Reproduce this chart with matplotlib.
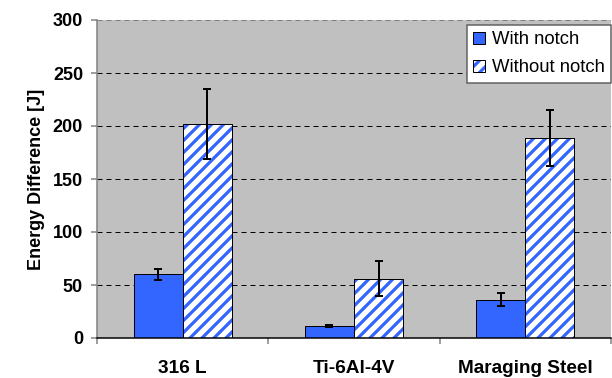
import numpy as np
import matplotlib
matplotlib.use("Agg")
import matplotlib.pyplot as plt
from matplotlib.patches import Patch

# data
materials = ["316 L", "Ti-6Al-4V", "Maraging Steel"]
with_notch = [60, 11.5, 36]
with_notch_err = [5, 0.8, 6]
without_notch = [202, 56, 189]
without_notch_err = [33, 16.5, 26.5]

blue = "#3366FF"
plt.rcParams["font.family"] = ["Liberation Sans", "DejaVu Sans"]
plt.rcParams["hatch.linewidth"] = 3.2

fig = plt.figure(figsize=(8.5, 5.25), dpi=72)
ax = fig.add_axes([97 / 612, 1 - 338 / 378, 514 / 612, 318 / 378])
ax.set_facecolor("#C0C0C0")

x = np.arange(len(materials))
w = 0.286

ax.bar(x - w / 2, with_notch, w, color=blue, edgecolor="black", linewidth=1, zorder=2)
ax.bar(x + w / 2, without_notch, w, color="white", edgecolor=blue, hatch="//",
       linewidth=0, zorder=2)
ax.bar(x + w / 2, without_notch, w, fill=False, edgecolor="black", linewidth=1, zorder=3)

ax.errorbar(x - w / 2, with_notch, yerr=with_notch_err, fmt="none", ecolor="black",
            elinewidth=2, capsize=4, capthick=2, zorder=4)
ax.errorbar(x + w / 2, without_notch, yerr=without_notch_err, fmt="none", ecolor="black",
            elinewidth=2, capsize=4, capthick=2, zorder=4)

ax.set_xlim(-0.5, 2.5)
ax.set_ylim(0, 300)
ax.set_yticks(np.arange(0, 301, 50))
ax.set_xticks(x)
ax.set_xticklabels(materials, fontsize=19, fontweight="bold")
ax.set_xticks([-0.5, 0.5, 1.5, 2.5], minor=True)
ax.tick_params(axis="x", which="major", length=0, pad=22)
ax.tick_params(axis="x", which="minor", length=6, color="#808080", width=1.5)
ax.tick_params(axis="y", length=6, color="#808080", width=1.5, labelsize=18, pad=8)
for lab in ax.get_yticklabels():
    lab.set_fontweight("bold")

ax.yaxis.grid(True, color="black", linestyle=(0, (5, 4)), linewidth=1)
ax.get_ygridlines()[-1].set_color("#808080")
ax.set_axisbelow(True)
for s in ["top", "right"]:
    ax.spines[s].set_visible(False)
ax.spines["left"].set_color("#808080")
ax.spines["left"].set_linewidth(1.5)
ax.spines["bottom"].set_color("black")
ax.spines["bottom"].set_linewidth(1.5)

ax.set_ylabel("Energy Difference [J]", fontsize=18, fontweight="bold", labelpad=8)

h1 = Patch(facecolor=blue, edgecolor="black", linewidth=1)
h2a = Patch(facecolor="white", edgecolor=blue, hatch="//", linewidth=0)
h2b = Patch(fill=False, edgecolor="black", linewidth=1)
leg = ax.legend([h1, (h2a, h2b)], ["With notch", "Without notch"], loc="upper right",
                bbox_to_anchor=(1.0, 0.985), fontsize=18.5, handlelength=0.65, handleheight=0.65,
                handletextpad=0.35, borderpad=0.35, labelspacing=0.6, fancybox=False,
                framealpha=1, borderaxespad=0)
leg.get_frame().set_edgecolor("#606060")
leg.get_frame().set_linewidth(1.5)

fig.savefig("out.png", dpi=72)
